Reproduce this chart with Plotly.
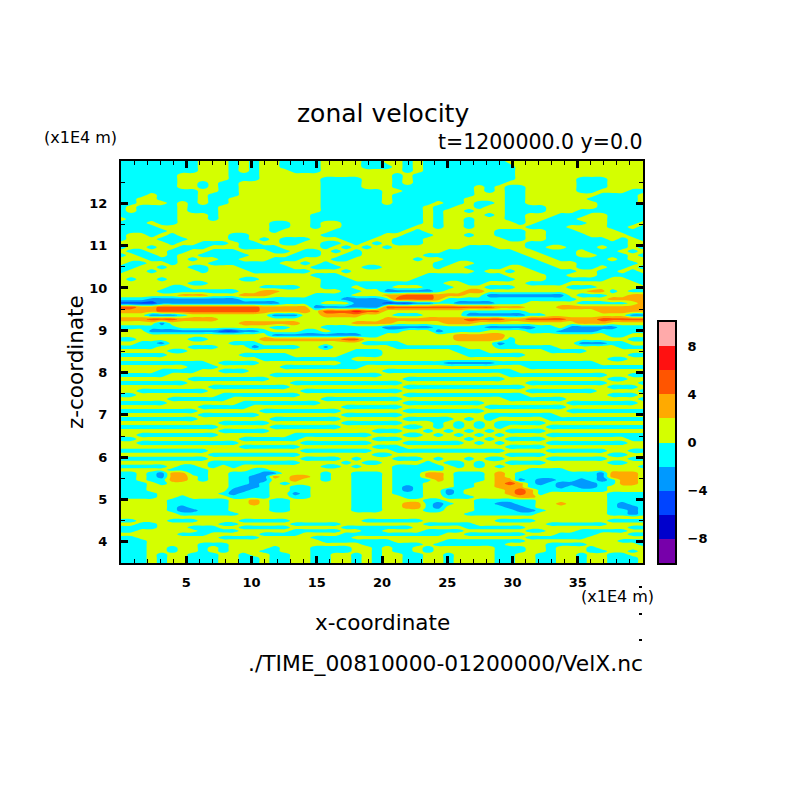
import plotly.graph_objects as go

# velocity class per grid cell, top row first. digit d means u = -9 + 2*d
# blocks of ten columns just to keep count while reading off the picture
rows_upper = [
    "4444444455 5454554444 5555445545 4444444455 5555555555 55",
    "4444444455 5454554444 5555444545 4444444445 5555555555 55",
    "4444444455 5454555444 5555555545 4444444445 5555555555 55",
    "4444445555 5444555555 5555555454 4444444445 5555555555 55",
    "4444445555 5444555555 4444555454 4444444445 5555544455 55",
    "4444445545 4455555555 4444555454 4444444455 5555544455 55",
    "4444445545 4455555555 4444555444 4444454544 5555544455 55",
    "4444444455 4455555555 4444445544 4444454544 5555544555 44",
    "4445444454 4455555555 4444445444 4444455544 5555555444 45",
    "4455444454 4555555555 4444445444 4444555544 5555554444 45",
    "4455545454 4555555555 4444445444 4544544544 5555555444 45",
    "4544445444 5555555555 4444444444 5445545544 4455555444 44",
    "4544445444 5555555555 4444444444 5455455544 4455544444 44",
    "4444445554 5555555554 4444444444 5455554544 5554445544 44",
    "5444445554 5555555554 4444444444 5455455544 5544455544 44",
    "4445445555 5555544554 5544444444 5455455554 5444445544 45",
    "4444555555 5555544554 5544444445 5455455555 4444555544 54",
    "4444455555 5555545555 5444444454 5555555444 5544455554 44",
    "4554545555 5445555555 4444445544 4555455444 5544445555 44",
    "4555444555 5445454445 5544455444 5555555544 5544444454 54",
    "5555545544 4544554455 4454545444 5555555555 4444444444 55",
    "4554554445 5544445555 4545454555 5555444555 4455444544 54",
    "5445544554 4455544544 5454555555 5544444445 5444454445 45",
    "4544545544 4445555444 5544555555 4444444444 5544455444 54",
    "5554445455 4455544455 5445555554 5544444444 4554444454 55",
    "5445545554 4444445545 4555555555 5445544444 4455544444 45",
    "4455455445 5544444554 4455445555 5455444455 4445544544 54",
    "4554555545 5554444445 5545555555 5555545545 5444455445 45",
    "5555555555 5555555554 4455555555 4444444455 5544555444 44",
    "5455455555 5544555555 4445555554 4444444445 5544444455 44",
    "5555555445 5555555555 4444444444 4455445555 4444555555 54",
    "5555544555 5555444455 4445444555 4445554445 5555444555 55",
]
rows_jets = [
    "5555444444 4455665555 5544553333 3455665555 5555556645 44",
    "5555556665 5566655554 4445556677 7666553333 3333544455 66",
    "4443333333 3344444444 4433334777 7644444444 4444455566 66",
    "2222333333 3333334444 5553332223 3443333444 5555544444 56",
    "7766777777 7777666663 3333337777 7777777666 5556666666 66",
    "6666777777 7777666665 7778775555 5555444444 5555555666 66",
    "5553334555 5555533355 6666555444 5555333333 4455555555 33",
    "6667776666 5555555555 5555556666 6666777766 7777666777 77",
    "5555355555 5566666655 5556666555 5566655555 5555566655 55",
    "4444445555 5555544555 4444443333 3444443333 3445333334 44",
    "5553333333 2233455544 5444444455 5344445555 4443333444 44",
    "5555555555 5555533333 3333445555 5556666655 5555555544 55",
    "4455555445 5555666666 6677555555 5556666645 5555555555 44",
    "5544355555 5444555555 5555444455 5555555345 5555533344 55",
    "4444555444 5553444455 3555555444 4444555444 4445555554 44",
    "5555544555 5555555555 5554445555 5554445555 5544445555 55",
]
rows_stripes = [
    "4444455555 5544444555 5544445555 5555444444 5555555555 44",
    "5555555555 5555444444 4445555555 5555555555 5555555544 55",
    "4444444445 4444555555 5544444444 4433333444 4444444555 55",
    "5555555444 5555554444 4444555555 5555555555 4444444444 44",
    "5555444455 4445555555 5555554444 4444444445 5555555555 55",
    "4444455555 5555544444 4444445555 5555555544 4444444455 44",
    "5555555444 4444455555 5555555544 4444444455 5555555544 55",
    "4444444555 5555555444 4444444455 5555555555 4444444455 54",
    "5555555554 4444444555 5555555544 4444444444 5555555544 45",
    "5544444445 5555555544 4444444455 5555555555 4444444555 54",
    "4455555555 4444444455 5555555544 4444444444 5555555544 45",
    "5555544444 4555555555 4444444455 5555555544 4444555555 54",
    "4444455555 5544444444 5555555544 4444445555 5555444444 45",
    "5555555544 4445555555 5544444455 5555554444 4444555555 55",
    "4444444455 5555444444 4455555544 4444445555 5555444444 44",
    "5555555544 4444555555 5544444455 5555554444 4445555555 55",
    "4444444455 5555544444 4455555544 4445454555 5544444444 44",
    "5555555555 4444455555 5544444455 5454545444 4455555555 55",
    "4444444444 5555544444 4455555544 5454545455 5544444444 44",
    "5555555555 4444455555 5555544455 4545454544 4455555555 55",
    "5544444444 5555555444 4444455544 5454545455 5544444444 44",
    "4455555555 5544444455 5555544455 5555454544 4455555555 44",
    "5544444444 4455555544 4444455544 4444545455 5544444444 55",
    "5555555555 5544444455 5555544455 5555555544 4455555555 55",
    "4444444445 5555555544 4444455444 4444444455 5544444455 44",
    "5555555554 4444444455 5555544555 5555555544 4455555544 55",
    "4444444445 5555555544 4454555444 5455454455 5544444455 44",
    "5555555554 4444444455 5545445555 4544545544 4455555544 55",
]
rows_lower = [
    "4444454454 5455555555 4454555444 4454545455 5555555555 54",
    "5555544445 5554455555 5555555444 4455555555 4444555555 55",
    "4454366445 5444335555 4554445444 6654445654 4444444366 65",
    "4454366545 5443365665 4554445444 6654445654 4444444366 65",
    "4454466545 5443355655 4554445444 4654445663 4334434346 65",
    "4445455555 5443454555 5554445444 5554455676 4343333446 65",
    "4445555555 5433455445 5554445434 5554455666 4443433455 55",
    "4445555555 5334455445 5554445434 5534555567 6444444455 55",
    "4444555555 4344455345 5554445444 5534555567 6455555544 44",
    "4444554555 5444455445 5554445544 5544455556 6555555544 44",
    "5555544444 4556544555 5554445555 4455544444 4555555544 44",
    "5555544444 4556544555 5554445566 4345544334 4556555543 44",
    "5555543444 4555544555 5554445566 4355544433 4555555543 34",
    "5555543344 4555544555 5554445555 4455544443 3455555544 34",
    "5555554444 4455555555 5555555555 5555444444 4555555544 34",
    "5555555555 5555555555 5555555555 5555555555 5555555555 55",
    "4455544455 5544444555 5555444444 5555555444 4555555544 44",
    "5544555555 4455555444 4455555555 4444455555 5544444455 55",
    "4444555444 5544444555 5544444445 5555444444 5555555555 44",
    "4455555544 4455555444 4455445555 4444555555 4455544444 55",
    "5555554445 5555444455 5544444444 4455444444 5554444555 44",
    "4455555555 4444555554 4445555555 5555555555 4444445555 55",
    "4445555555 5555555555 4444444555 5544444444 5555555554 44",
    "4445555544 4555555555 5555444444 5444444455 5544445555 54",
    "4445545545 4555545554 4445545445 4555555444 5545554555 55",
    "4445545545 4555445554 4445545445 4555555444 5545554455 45",
    "4445455444 5545544554 4554545544 5545555445 5445545544 55",
    "4445455444 5544544554 4554545544 5545555445 5445545544 45",
    "4445455444 5544544554 4554545544 5545555445 5445545544 45",
]
# z where each block of rows starts and ends, top to bottom
section_edges = [13.0, 9.97, 8.46, 5.82, 3.5]

n_columns = 52
levels = [-10, -8, -6, -4, -2, 0, 2, 4, 6, 8, 10]
band_mids = [-9, -7, -5, -3, -1, 1, 3, 5, 7, 9]
band_colors = ["#7700aa", "#0000cc", "#0044ff", "#0099ff", "#00ffff",
               "#d4ff00", "#ffaa00", "#ff5500", "#ff1111", "#ffaaaa"]
cbar_ticks = [-8, -4, 0, 4, 8]
x_ticks = [5, 10, 15, 20, 25, 30, 35]
z_ticks = [4, 5, 6, 7, 8, 9, 10, 11, 12]
x_range = [0, 40]
z_range = [3.5, 13]

# page has an 8px body margin, so everything is placed for a 796 figure
SIZE = 796


def fx(px):
    return (px - 8) / SIZE


def fy(py):
    return 1 - (py - 8) / SIZE


z_top_down = []
sections = [rows_upper, rows_jets, rows_stripes, rows_lower]
for k, section in enumerate(sections):
    step = (section_edges[k] - section_edges[k + 1]) / len(section)
    for i in range(len(section)):
        z_top_down.append(section_edges[k] - (i + 0.5) * step)
# stretch the outer rows onto the frame so no white shows
z_top_down[0] = z_range[1]
z_top_down[-1] = z_range[0]
z_cells = z_top_down[::-1]

grid = []
for row in reversed(rows_upper + rows_jets + rows_stripes + rows_lower):
    digits = row.replace(" ", "").ljust(n_columns, "4")[:n_columns]
    grid.append([-9 + 2 * int(d) for d in digits])

x_cells = [x_range[1] * i / (n_columns - 1) for i in range(n_columns)]

# discrete colour steps for the ten bands
colorscale = []
for i, c in enumerate(band_colors):
    colorscale.append([i / 10, c])
    colorscale.append([(i + 1) / 10, c])

fig = go.Figure()
fig.add_trace(go.Contour(
    x=x_cells, y=z_cells, z=grid,
    zmin=levels[0], zmax=levels[-1],
    colorscale=colorscale, showscale=False,
    contours=dict(start=levels[0], end=levels[-1], size=2, coloring="fill", showlines=False),
    line=dict(width=0),
))

# colour bar as its own little heatmap, a plotly colorbar pushes the margins around
fig.add_trace(go.Heatmap(
    x=[0], y=band_mids, z=[[m] for m in band_mids],
    zmin=levels[0], zmax=levels[-1],
    colorscale=colorscale, showscale=False,
    xaxis="x2", yaxis="y2",
))

tick_font = dict(family="DejaVu Sans", size=13, color="black", weight="bold")
axis_style = dict(showgrid=False, zeroline=False, showline=True, linecolor="black", linewidth=2,
                  mirror="allticks", ticks="inside", tickcolor="black", tickwidth=3,
                  ticklen=7, tickfont=tick_font)

fig.update_layout(
    width=SIZE, height=SIZE, autosize=False,
    margin=dict(l=0, r=0, t=0, b=0),
    paper_bgcolor="white", plot_bgcolor="white",
    showlegend=False,
    xaxis=dict(domain=[fx(121), fx(643)], range=x_range, tickvals=x_ticks, ticklabelstandoff=6,
               minor=dict(dtick=1, ticks="inside", ticklen=4, tickcolor="black", tickwidth=1),
               **axis_style),
    yaxis=dict(domain=[fy(563), fy(161)], range=z_range, tickvals=z_ticks, ticklabelstandoff=9,
               minor=dict(dtick=0.5, ticks="inside", ticklen=4, tickcolor="black", tickwidth=1),
               **axis_style),
    xaxis2=dict(domain=[fx(659), fx(675)], anchor="y2", showticklabels=False, ticks="",
                showgrid=False, zeroline=False, showline=True, linecolor="black",
                linewidth=2, mirror=True),
    yaxis2=dict(domain=[fy(563), fy(322)], anchor="x2", side="right", range=[-10, 10],
                tickvals=cbar_ticks, ticks="", showgrid=False, zeroline=False, showline=True,
                linecolor="black", linewidth=2, mirror=True, tickfont=tick_font,
                ticklabelstandoff=8),
)


def label(text, x, y, size, anchor="center", angle=0):
    fig.add_annotation(text=text, x=fx(x), y=fy(y), xref="paper", yref="paper",
                       showarrow=False, xanchor=anchor, yanchor="middle", textangle=angle,
                       font=dict(family="DejaVu Sans", size=size, color="black"))


label("zonal velocity", 383, 114, 25)
label("t=1200000.0 y=0.0", 645, 142, 20.5, "right")
label("(x1E4 m)", 80, 137, 16)
label("(x1E4 m)", 617, 596, 16)
label("x-coordinate", 382, 622, 21.5)
label("./TIME_00810000-01200000/VelX.nc", 645, 663, 21.8, "right")
label("z-coordinate", 75, 362, 21.5, angle=-90)

# the little stray dots under the right hand corner
for dot_y in [587, 614, 640]:
    fig.add_shape(type="rect", xref="paper", yref="paper", x0=fx(639), x1=fx(642),
                  y0=fy(dot_y + 1), y1=fy(dot_y - 1),
                  fillcolor="black", line=dict(width=0))

fig.write_html("out.html")
